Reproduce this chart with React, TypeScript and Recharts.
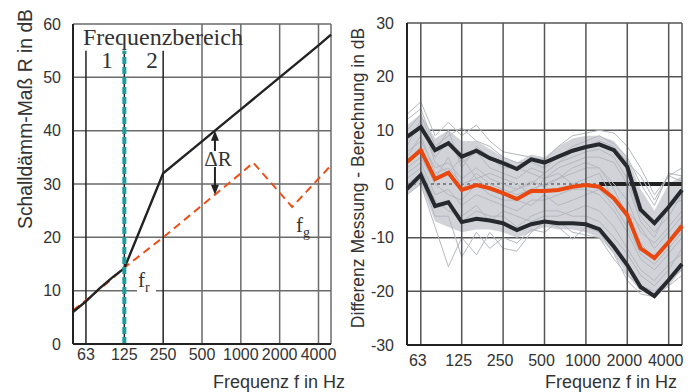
import React from "react";
import {
  Area,
  CartesianGrid,
  ComposedChart,
  Line,
  LineChart,
  ReferenceLine,
  XAxis,
  YAxis,
} from "recharts";

const SANS = "'Liberation Sans', Arial, sans-serif";
const SERIF = "'Liberation Serif', 'Times New Roman', serif";

const OCT_TICKS = [63, 125, 250, 500, 1000, 2000, 4000];
const LEFT_Y_TICKS = [0, 10, 20, 30, 40, 50, 60];
const RIGHT_Y_TICKS = [-30, -20, -10, 0, 10, 20, 30];

// left: Schalldämm-Maß
const R_FREQ = [50, 63, 80, 100, 125, 250, 500, 630, 1000, 2000, 4000, 5000];
const R_VALUES = [6, 8, 10.4, 12.4, 14.2, 32, 38, 40, 44, 50, 56, 58];
const R_DASH_FREQ = [50, 63, 80, 100, 125, 250, 500, 630, 1000, 1250, 2500, 5000];
const R_DASH_VALUES = [6.3, 8.2, 10.2, 12.2, 14.3, 20, 26, 28, 32, 34, 25.7, 33.5];

// right: Differenz Messung - Berechnung (Terzbänder)
const THIRD_OCT = [50, 63, 80, 100, 125, 160, 200, 250, 315, 400, 500, 630, 800, 1000, 1250, 1600, 2000, 2500, 3150, 4000, 5000];
const UPPER = [8.8, 10.6, 6.3, 7.6, 5.1, 6.2, 4.8, 3.9, 2.8, 4.6, 4.0, 5.1, 6.2, 6.9, 7.4, 6.3, 3.2, -4.8, -7.3, -4.3, -1.1];
const MEDIAN = [4.1, 6.3, 0.9, 2.1, -1.1, -0.2, -0.8, -1.7, -2.8, -1.3, -1.3, -1.1, -0.5, -0.2, -0.5, -2.7, -5.8, -12.0, -13.8, -10.8, -7.8];
const LOWER = [-0.9, 1.7, -4.1, -3.4, -7.1, -6.5, -6.8, -7.3, -8.6, -7.5, -7.0, -7.3, -7.3, -7.5, -8.4, -11.7, -15.1, -19.2, -20.9, -17.9, -14.9];
const BAND_HIGH = [11, 13, 8.5, 10, 8, 8, 6.5, 5, 4, 5.5, 5, 7, 8.5, 9, 9, 8, 5, -1, -5, 0, 1.5];
const BAND_LOW = [-2, 0, -7, -8, -9, -8.5, -8.5, -9, -10, -9, -8, -8.5, -8.5, -9, -10, -13, -17, -20, -21, -19, -16];
const GREY = [
  [13, 15.3, 9, 11.5, 9, 11, 8, 6, 5.5, 5, 4.5, 7, 9, 9.5, 10, 9.5, 7, 3, -2, 1.5, 3],
  [12, 14, 7, 9, 10.5, 8, 7, 5, 4, 4, 3, 5, 7, 8, 9, 7.5, 5, 0, -4, 2, 1.5],
  [-2, 0, -8, -15.4, -10, -13.2, -9, -12, -12.5, -9, -7, -8, -10.3, -8, -9, -13, -18, -20.5, -21, -19, -17],
  [-1.5, 1, -6, -6, -13.6, -9, -12, -10, -11, -8.5, -9, -7, -9, -9.5, -10, -14, -17, -19, -20, -18, -16],
  [6, 8, 3, 4, 1, 3, 1, 0, -1, 0.5, -0.5, 1, 2, 3, 3, 0, -3, -9, -11, -8, -5],
  [2, 4, -2, -1, -4, -2, -3, -4, -5, -3, -3, -2, -1, -1, -2, -5, -9, -14, -16, -13, -10],
  [9, 11, 5, 8, 4, 6, 3, 2, 1, 3, 2, 4, 5, 6, 6.5, 5, 1, -6, -9, -6, -2],
  [0, 2, -4, -3, -7, -5, -6, -6, -8, -6, -5, -5, -6, -6, -7, -10, -13, -17, -19, -16, -12],
  [4, 7, 1, 5, -1, 2, 0, -1, -2, -1, 0, 1, 3, 4, 3, -1, -6, -11, -14, -11, -7],
  [7, 12, 4, 2, 5, 1, 2, 1, 0, -2, 1, 2, 0, 1, 2, -3, -5, -8, -12, -9, -6],
  [3, 5, 0, -2, -3, 0, -2, -3, -3, -4, -2, -4, -3, -2, -1, -4, -8, -13, -15, -12, -9],
  [10, 13, 6, 10, 3, 7, 5, 3, 3, 2, 1, 3, 4, 5, 5, 4, 0, -7, -10, -4, -3],
  [5, 9, 2, 3, 0, 1, -1, -2, -1, 0, 2, 4, 6, 7, 8, 7, 4, 1.5, -3, 1.5, 0.5],
  [1, 3, -3, -5, -6, -4, -7, -5, -6, -7, -6, -6, -5, -4, -5, -8, -12, -16, -18, -15, -13],
];

const rData = R_FREQ.map((f, i) => ({ f, r: R_VALUES[i] }));
const rDashData = R_DASH_FREQ.map((f, i) => ({ f, r: R_DASH_VALUES[i] }));
const diffData = THIRD_OCT.map((f, i) => {
  const row: Record<string, any> = {
    f,
    upper: UPPER[i],
    median: MEDIAN[i],
    lower: LOWER[i],
    band: [BAND_LOW[i], BAND_HIGH[i]],
  };
  GREY.forEach((g, k) => (row["g" + k] = g[i]));
  return row;
});

const tickStyle = { fill: "#333", fontSize: 16, fontFamily: SANS };
const axisStyle = { stroke: "#222", strokeWidth: 2 };

const DoubleArrow = (p: any) => {
  const { x1, y1, x2, y2 } = p;
  return (
    <g>
      <line x1={x1} y1={y1 + 8} x2={x2} y2={y2 - 8} stroke="#222" strokeWidth={2} />
      <polygon points={`${x1},${y1} ${x1 - 4},${y1 + 10} ${x1 + 4},${y1 + 10}`} fill="#222" />
      <polygon points={`${x2},${y2} ${x2 - 4},${y2 - 10} ${x2 + 4},${y2 - 10}`} fill="#222" />
    </g>
  );
};

function LeftChart() {
  return (
    <LineChart width={346} height={392} margin={{ top: 24, right: 15, bottom: 0, left: 0 }}>
      <CartesianGrid vertical={false} stroke="#6a6a6a" strokeWidth={1.5} />
      <XAxis
        dataKey="f"
        type="number"
        scale="log"
        domain={[50, 5000]}
        ticks={OCT_TICKS}
        interval={0}
        height={48}
        tickLine={false}
        tickSize={0}
        tickMargin={5}
        axisLine={axisStyle}
        tick={tickStyle}
      />
      <YAxis
        type="number"
        domain={[0, 60]}
        ticks={LEFT_Y_TICKS}
        width={73}
        tickLine={false}
        tickSize={0}
        tickMargin={12}
        axisLine={axisStyle}
        tick={tickStyle}
      />
      {[500, 1000, 2000, 4000, 5000].map((f) => (
        <ReferenceLine key={f} x={f} stroke="#6a6a6a" strokeWidth={1.5} />
      ))}
      {[63, 125, 250].map((f) => (
        <ReferenceLine
          key={"b" + f}
          segment={[{ x: f, y: 0 }, { x: f, y: 55 }]}
          stroke="#222"
          strokeWidth={1.5}
        />
      ))}
      <Line
        data={rDashData}
        dataKey="r"
        type="linear"
        stroke="#e8521a"
        strokeWidth={2}
        strokeDasharray="8 5"
        dot={false}
        isAnimationActive={false}
      />
      <Line
        data={rData}
        dataKey="r"
        type="linear"
        stroke="#222"
        strokeWidth={2.4}
        dot={false}
        isAnimationActive={false}
      />
      <ReferenceLine
        segment={[{ x: 125, y: 0 }, { x: 125, y: 55 }]}
        stroke="#1f9c9c"
        strokeWidth={4}
        strokeDasharray="7 3"
      />
      <ReferenceLine segment={[{ x: 630, y: 40 }, { x: 630, y: 28 }]} shape={DoubleArrow} />
    </LineChart>
  );
}

function RightChart() {
  return (
    <ComposedChart
      width={347}
      height={392}
      data={diffData}
      margin={{ top: 23, right: 11, bottom: 0, left: 0 }}
    >
      <CartesianGrid vertical={false} horizontalValues={[-20, -10, 10, 20, 30]} stroke="#555" strokeWidth={1.5} />
      <XAxis
        dataKey="f"
        type="number"
        scale="log"
        domain={[50, 5000]}
        ticks={OCT_TICKS}
        interval={0}
        height={47}
        tickLine={false}
        tickSize={0}
        tickMargin={10}
        axisLine={axisStyle}
        tick={{ ...tickStyle, dx: -3 }}
      />
      <YAxis
        type="number"
        domain={[-30, 30]}
        ticks={RIGHT_Y_TICKS}
        width={61}
        tickLine={false}
        tickSize={0}
        tickMargin={13}
        axisLine={axisStyle}
        tick={tickStyle}
      />
      <ReferenceLine y={0} stroke="#333" strokeWidth={1.2} strokeDasharray="3 3" />
      <ReferenceLine segment={[{ x: 1250, y: 0 }, { x: 5000, y: 0 }]} stroke="#222" strokeWidth={4} />
      <Area dataKey="band" type="linear" stroke="none" fill="#d1d3d8" fillOpacity={1} isAnimationActive={false} />
      {GREY.map((_, k) => (
        <Line
          key={k}
          dataKey={"g" + k}
          type="linear"
          stroke="#b4b8bf"
          strokeWidth={1}
          dot={false}
          isAnimationActive={false}
        />
      ))}
      {[...OCT_TICKS, 5000].map((f) => (
        <ReferenceLine key={f} x={f} stroke="#555" strokeWidth={1.5} />
      ))}
      <Line dataKey="upper" type="linear" stroke="#262a2e" strokeWidth={4} dot={false} isAnimationActive={false} />
      <Line dataKey="lower" type="linear" stroke="#262a2e" strokeWidth={4} dot={false} isAnimationActive={false} />
      <Line dataKey="median" type="linear" stroke="#e8470f" strokeWidth={4} dot={false} isAnimationActive={false} />
    </ComposedChart>
  );
}

export default function App() {
  return (
    <div
      style={{
        position: "absolute",
        left: 0,
        top: 0,
        width: 693,
        height: 392,
        background: "#fff",
        overflow: "hidden",
      }}
    >
      <div style={{ position: "absolute", left: 0, top: 0 }}>
        <LeftChart />
      </div>
      <div style={{ position: "absolute", left: 346, top: 0 }}>
        <RightChart />
      </div>
      <svg
        width={693}
        height={392}
        style={{ position: "absolute", left: 0, top: 0, pointerEvents: "none" }}
      >
        {/* axis titles */}
        <text
          transform="translate(32,119) rotate(-90)"
          textAnchor="middle"
          fontSize={20}
          textLength={220}
          lengthAdjust="spacingAndGlyphs"
          fontFamily={SANS}
          fill="#333"
        >
          Schalldämm-Maß R in dB
        </text>
        <text
          transform="translate(364,178) rotate(-90)"
          textAnchor="middle"
          fontSize={17.5}
          fontFamily={SANS}
          fill="#333"
        >
          Differenz Messung - Berechnung in dB
        </text>
        <text x={213} y={388} fontSize={18} fontFamily={SANS} fill="#333">
          Frequenz f in Hz
        </text>
        <text x={677} y={388} textAnchor="end" fontSize={18} fontFamily={SANS} fill="#333">
          Frequenz f in Hz
        </text>

        {/* annotations left chart */}
        <text x={83} y={45} fontSize={24} fontFamily={SERIF} fill="#333">
          Frequenzbereich
        </text>
        <text x={107} y={68} textAnchor="middle" fontSize={23} fontFamily={SERIF} fill="#333">
          1
        </text>
        <text x={152} y={68} textAnchor="middle" fontSize={23} fontFamily={SERIF} fill="#333">
          2
        </text>
        <rect x={203} y={151} width={30} height={16} fill="#fff" />
        <text x={218} y={166} textAnchor="middle" fontSize={21} fontFamily={SERIF} fill="#333">
          ΔR
        </text>
        <rect x={137} y={270} width={19} height={25} fill="#fff" />
        <text x={138} y={287} fontSize={21} fontFamily={SERIF} fill="#333">
          f
        </text>
        <text x={145} y={292} fontSize={14} fontFamily={SERIF} fill="#333">
          r
        </text>
        <text x={296} y={232} fontSize={21} fontFamily={SERIF} fill="#333">
          f
        </text>
        <text x={303} y={237} fontSize={14} fontFamily={SERIF} fill="#333">
          g
        </text>
      </svg>
    </div>
  );
}
